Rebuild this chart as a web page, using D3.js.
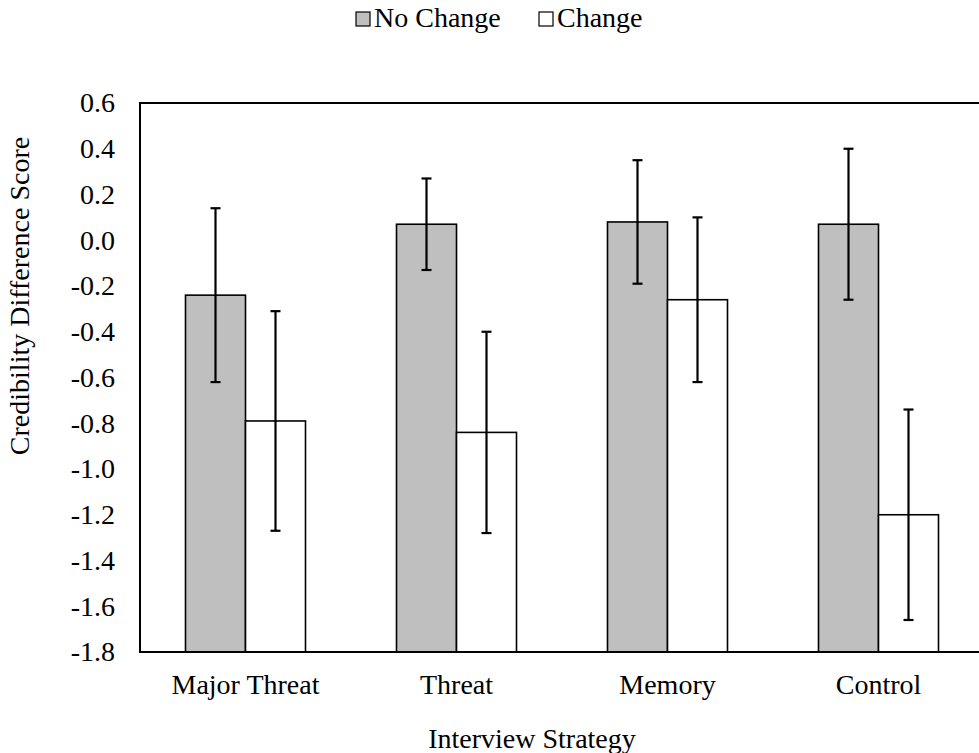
<!DOCTYPE html>
<html>
<head>
<meta charset="utf-8">
<script src="https://cdn.jsdelivr.net/npm/d3@7"></script>
<style>
  html, body { margin: 0; padding: 0; background: #fff; overflow: hidden; }
</style>
</head>
<body>
<svg id="chart" width="979" height="753" font-family="Liberation Serif" font-size="28"></svg>
<script>
// Interview strategies on the x axis
const categories = ["Major Threat", "Threat", "Memory", "Control"];
// Series names and mean credibility difference scores
const seriesNames = ["No Change", "Change"];
const noChangeValues = [-0.24, 0.07, 0.08, 0.07];
const changeValues = [-0.79, -0.84, -0.26, -1.20];
// Error bar half-widths
const noChangeErrors = [0.38, 0.20, 0.27, 0.33];
const changeErrors = [0.48, 0.44, 0.36, 0.46];
// Y axis tick values
const yTicks = [0.6, 0.4, 0.2, 0.0, -0.2, -0.4, -0.6, -0.8, -1.0, -1.2, -1.4, -1.6, -1.8];

const seriesFill = { "No Change": "#bfbfbf", "Change": "#ffffff" };
const FONT = "Liberation Serif";
const FS = "28px";

const svg = d3.select("#chart");
const plot = { left: 140, top: 103, right: 984, bottom: 652 };

const x = d3.scaleBand().domain(categories).range([plot.left, plot.right]);
const y = d3.scaleLinear().domain([-1.8, 0.6]).range([plot.bottom, plot.top]);
const barW = 60;
const inner = d3.scaleBand().domain(seriesNames).range([-barW, barW]);

const rows = categories.flatMap((c, i) => [
  { cat: c, s: "No Change", v: noChangeValues[i], e: noChangeErrors[i] },
  { cat: c, s: "Change", v: changeValues[i], e: changeErrors[i] }
]);

// Bars hang from the bottom of the axis range
const g = svg.append("g");
g.selectAll("rect.bar").data(rows).join("rect")
  .attr("class", "bar")
  .attr("x", d => x(d.cat) + x.bandwidth() / 2 + inner(d.s))
  .attr("width", inner.bandwidth())
  .attr("y", d => y(d.v))
  .attr("height", d => y(-1.8) - y(d.v))
  .attr("fill", d => seriesFill[d.s])
  .attr("stroke", "#000")
  .attr("stroke-width", 1.6);

// Error bars
const cx = d => x(d.cat) + x.bandwidth() / 2 + inner(d.s) + inner.bandwidth() / 2;
const eb = g.selectAll("g.err").data(rows).join("g").attr("class", "err")
  .attr("stroke", "#000").attr("stroke-width", 2.2);
eb.append("line").attr("x1", cx).attr("x2", cx)
  .attr("y1", d => y(d.v + d.e)).attr("y2", d => y(d.v - d.e));
eb.append("line").attr("x1", d => cx(d) - 5).attr("x2", d => cx(d) + 5)
  .attr("y1", d => y(d.v + d.e)).attr("y2", d => y(d.v + d.e));
eb.append("line").attr("x1", d => cx(d) - 5).attr("x2", d => cx(d) + 5)
  .attr("y1", d => y(d.v - d.e)).attr("y2", d => y(d.v - d.e));

// Plot frame
svg.append("rect")
  .attr("x", plot.left).attr("y", plot.top)
  .attr("width", plot.right - plot.left).attr("height", plot.bottom - plot.top)
  .attr("fill", "none").attr("stroke", "#000").attr("stroke-width", 2);

// Y axis labels
const yAxis = d3.axisLeft(y).tickValues(yTicks).tickSize(0).tickPadding(25)
  .tickFormat(d => d3.format(".1f")(d).replace("\u2212", "-"));
const ya = svg.append("g").attr("transform", `translate(${plot.left},0)`).call(yAxis)
  .attr("font-family", FONT).attr("font-size", 28);
ya.select(".domain").remove();
ya.selectAll("text").attr("font-family", FONT)
  .style("font-family", FONT).style("font-size", FS).attr("fill", "#000");

// X axis labels
const xAxis = d3.axisBottom(x).tickSize(0).tickPadding(22);
const xa = svg.append("g").attr("transform", `translate(0,${plot.bottom})`).call(xAxis)
  .attr("font-family", FONT).attr("font-size", 28);
xa.select(".domain").remove();
xa.selectAll("text").style("font-family", FONT).style("font-size", FS).attr("fill", "#000");

// Axis titles
svg.append("text").attr("x", 532).attr("y", 748).attr("text-anchor", "middle")
  .style("font-family", FONT).style("font-size", FS).text("Interview Strategy");
svg.append("text").attr("transform", "translate(29,296) rotate(-90)").attr("text-anchor", "middle")
  .style("font-family", FONT).style("font-size", FS).text("Credibility Difference Score");

// Legend
const legendX = [356, 539];
const lg = svg.append("g").selectAll("g").data(seriesNames).join("g")
  .attr("transform", (d, i) => `translate(${legendX[i]},12)`);
lg.append("rect").attr("width", 14).attr("height", 14)
  .attr("fill", d => seriesFill[d]).attr("stroke", "#000").attr("stroke-width", 1.2);
lg.append("text").attr("x", 18).attr("y", 15)
  .style("font-family", FONT).style("font-size", FS).text(d => d);
</script>
</body>
</html>
